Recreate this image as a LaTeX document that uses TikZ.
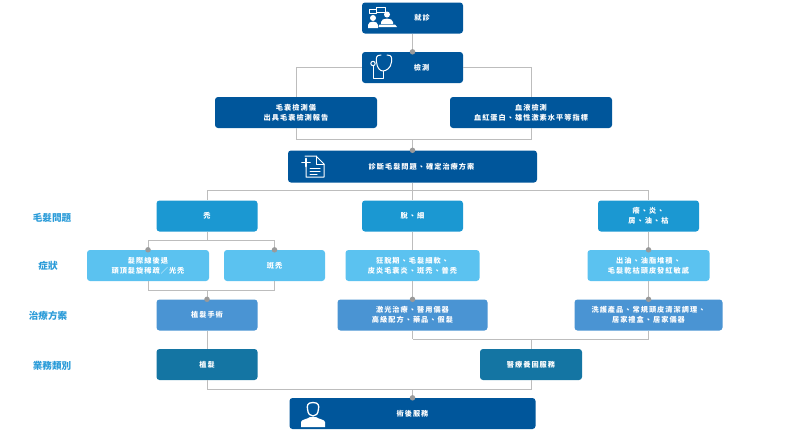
\documentclass[tikz,border=0pt]{standalone}
\usepackage{fontspec}
\setmainfont{Noto Sans CJK TC}
\definecolor{cdark}{HTML}{00569B}
\definecolor{cmed}{HTML}{1B98D2}
\definecolor{clight}{HTML}{5BC2F0}
\definecolor{cblue}{HTML}{4A94D3}
\definecolor{cteal}{HTML}{1475A3}
\definecolor{cline}{HTML}{BDBDBD}
\definecolor{cdot}{HTML}{9A9A9A}
\definecolor{clabel}{HTML}{2A9BD8}
\tikzset{
 bx/.style={rounded corners=3pt,inner sep=0pt,text=white,align=center,minimum height=31pt,
   font=\bfseries\fontsize{7.2}{10}\selectfont\addfontfeatures{LetterSpace=14}},
 dark/.style={bx,fill=cdark},
 med/.style={bx,fill=cmed},
 light/.style={bx,fill=clight},
 blue/.style={bx,fill=cblue},
 teal/.style={bx,fill=cteal},
 sidelabel/.style={inner sep=0pt,text=clabel,font=\bfseries\fontsize{9.6}{11}\selectfont},
 conn/.style={draw=cline,line width=1pt},
 dotn/.style={circle,fill=cdot,inner sep=0pt,minimum size=5.5pt},
 ico/.style={draw=white,line width=1pt,line join=round,line cap=round},
}
\begin{document}
\begin{tikzpicture}[x=1pt,y=-1pt]
\useasboundingbox (0,0) rectangle (791,429);
\node[dark,minimum width=101pt] (visit) at (412.5,18) {\hspace*{19pt}就診};
\node[dark,minimum width=101pt] (test) at (412.5,67.5) {\hspace*{18pt}檢測};
\node[dark,minimum width=162pt] (hair) at (296,112.5) {毛囊檢測儀\\出具毛囊檢測報告};
\node[dark,minimum width=162pt] (blood) at (531,112.5) {血液檢測\\血紅蛋白、雄性激素水平等指標};
\node[dark,minimum width=249pt,minimum height=32pt] (diag) at (412.5,166.5) {\hspace*{18pt}\raisebox{-1.5pt}{診斷毛髮問題、確定治療方案}};
\node[med,minimum width=101pt] (bald) at (207,216) {禿};
\node[med,minimum width=101pt] (thin) at (412.5,216) {脫、細};
\node[med,minimum width=101pt] (itch) at (648.5,216) {癢、炎、\\屑、油、枯};
\node[light,minimum width=122pt] (s1) at (148,265.5) {髮際線後退\\頭頂髮旋稀疏／光禿};
\node[light,minimum width=101pt] (s2) at (274.5,265.5) {斑禿};
\node[light,minimum width=134pt] (s3) at (412.5,265.5) {狂脫期、毛髮細軟、\\皮炎毛囊炎、斑禿、普禿};
\node[light,minimum width=122pt] (s4) at (648.5,265.5) {出油、油脂堆積、\\毛髮乾枯頭皮發紅敏感};
\node[blue,minimum width=101pt] (t1) at (207,315) {植髮手術};
\node[blue,minimum width=150pt] (t2) at (412.5,315) {激光治療、醫用儀器\\高級配方、藥品、假髮};
\node[blue,minimum width=148pt] (t3) at (648.5,315) {洗護產品、常規頭皮清潔調理、\\居家禮盒、居家儀器};
\node[teal,minimum width=101pt] (b1) at (207,364.5) {植髮};
\node[teal,minimum width=102pt] (b2) at (531,364.5) {醫療養固服務};
\node[dark,minimum width=246pt] (after) at (412.5,413.5) {術後服務};
\node[sidelabel] (l1) at (52,218) {毛髮問題};
\node[sidelabel] (l2) at (48,266) {症狀};
\node[sidelabel] (l3) at (48,316) {治療方案};
\node[sidelabel] (l4) at (52,365.5) {業務類別};

\coordinate (j1) at (412.5,139);
\coordinate (j2) at (412.5,190);
\coordinate (j3) at (207,240);
\coordinate (j4) at (207,290);
\coordinate (j5) at (412.5,339);
\coordinate (j6) at (412.5,389);

\draw[conn] (visit.south) -- (test.north);
\draw[conn] (test.west) -| (hair.north);
\draw[conn] (test.east) -| (blood.north);
\draw[conn] (hair.south) |- (j1);
\draw[conn] (blood.south) |- (j1);
\draw[conn] (j1) -- (diag.north);
\draw[conn] (diag.south) -- (j2);
\draw[conn] (j2) -| (bald.north);
\draw[conn] (j2) -- (thin.north);
\draw[conn] (j2) -| (itch.north);
\draw[conn] (bald.south) -- (j3);
\draw[conn] (j3) -| (s1.north);
\draw[conn] (j3) -| (s2.north);
\draw[conn] (s1.south) |- (j4);
\draw[conn] (s2.south) |- (j4);
\draw[conn] (j4) -- (t1.north);
\draw[conn] (thin.south) -- (s3.north);
\draw[conn] (s3.south) -- (t2.north);
\draw[conn] (itch.south) -- (s4.north);
\draw[conn] (s4.south) -- (t3.north);
\draw[conn] (t1.south) -- (b1.north);
\draw[conn] (t2.south) |- (j5);
\draw[conn] (t3.south) |- (j5);
\draw[conn] (b2.north) |- (j5);
\draw[conn] (b1.south) |- (j6);
\draw[conn] (b2.south) |- (j6);
\draw[conn] (j6) -- (after.north);

\node[dotn] (d1) at (test.north) {};
\node[dotn] (d2) at (diag.north) {};
\node[dotn] (d3) at (s1.north) {};
\node[dotn] (d4) at (s2.north) {};
\node[dotn] (d5) at (t1.north) {};
\node[dotn] (d6) at (t2.north) {};
\node[dotn] (d7) at (s4.north) {};
\node[dotn] (d8) at (t3.north) {};
\node[dotn] (d9) at (after.north) {};

% icon: consultation
\draw[ico] (369,9) rectangle (376,13);
\draw[ico] (376,7) rectangle (385,12);
\fill[white] (373,18) circle (3);
\fill[white] (387,14.5) circle (3);
\fill[white] (368,28) -- (368,25) .. controls (368,20.5) and (378,20.5) .. (378,25) -- (378,28) -- cycle;
\fill[white] (381,22) .. controls (381,17.5) and (393,17.5) .. (393,22) -- (393,24) -- (381,24) -- cycle;
\fill[white] (379.5,24.5) -- (395,24.5) -- (397,27) -- (378.5,27) -- cycle;
% icon: stethoscope
\draw[ico] (381,55) .. controls (376,55) and (376,58) .. (376.5,62) .. controls (377,68) and (380,71) .. (383,71) .. controls (386,71) and (391,68) .. (391.5,62) .. controls (392,58) and (392,55) .. (387,55);
\draw[ico] (383,71) -- (383,78.5) -- (373,78.5) -- (373,66);
\draw[ico] (373,63.5) circle (2.2);
% icon: document
\draw[ico] (305,156) -- (316,156) -- (324,164) -- (324,177) -- (306,177) -- (306,167);
\draw[ico] (316,156) -- (316,164) -- (324,164);
\draw[ico,line width=1.8pt] (302,162.5) -- (310,162.5);
\draw[ico,line width=1.8pt] (306,158.5) -- (306,166.5);
\draw[ico] (310,168) -- (320,168) (310,171) -- (320,171) (310,174) -- (317,174);
% icon: headset person
\draw[ico,line width=1.3pt] (313,402.5) .. controls (307,402.5) and (307,406) .. (307.5,409) .. controls (308,414) and (310,416) .. (313,416) .. controls (316,416) and (318,414) .. (318.5,409) .. controls (319,406) and (319,402.5) .. (313,402.5) -- cycle;
\fill[white] (301,427) -- (301,422) .. controls (301,419.5) and (308,419) .. (310,417) -- (316,417) .. controls (318,419) and (325,419.5) .. (325,422) -- (325,427) -- cycle;
\end{tikzpicture}
\end{document}
